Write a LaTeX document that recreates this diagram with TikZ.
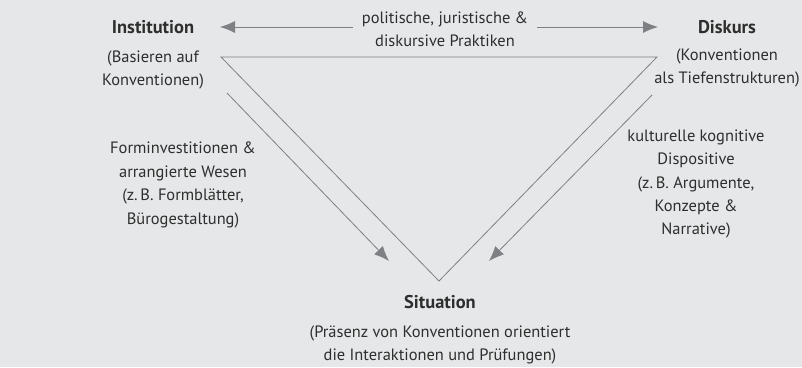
\documentclass[tikz,border=0pt]{standalone}
\usepackage{fontspec}
\setmainfont{PT Sans}
\usetikzlibrary{arrows.meta}
\definecolor{bg}{HTML}{E6E7E8}
\definecolor{txt}{HTML}{2E2E2E}
\definecolor{ln}{HTML}{7F8083}
\tikzset{
  px/.style={x=1bp,y=-1bp},
  lbl/.style={text=txt,align=center,font=\fontsize{16.5}{23.5}\selectfont,inner sep=0pt},
  ttl/.style={text=txt,align=center,font=\fontsize{18.5}{20}\selectfont\bfseries,inner sep=0pt},
  tri/.style={draw=ln,line width=0.8bp},
  arr/.style={draw=ln,line width=0.8bp,-{Latex[length=15bp,width=12bp,fill=ln]}},
}
\begin{document}
\begin{tikzpicture}[px]
\fill[bg] (0,0) rectangle (802,367);
\useasboundingbox (0,0) rectangle (802,367);
% titles
\node[ttl] (inst) at (153,27) {Institution};
\node[lbl] (instd) at (153,70) {(Basieren auf\\Konventionen)};
\node[ttl] (disk) at (727,27) {Diskurs};
\node[lbl] (diskd) at (727,68) {(Konventionen\\als Tiefenstrukturen)};
\node[ttl] (sit) at (440,302) {Situation};
\node[lbl] (sitd) at (440,345) {(Präsenz von Konventionen orientiert\\die Interaktionen und Prüfungen)};
% triangle
\coordinate (tl) at (221,57);
\coordinate (tr) at (657,57);
\coordinate (bt) at (439,281);
\draw[tri] (tl) -- (tr) -- (bt) -- cycle;
% top arrows
\node[lbl] (pol) at (445,29.5) {politische, juristische \&\\diskursive Praktiken};
\coordinate (la) at (353,27);
\coordinate (lt) at (220,27);
\coordinate (ra) at (537,27);
\coordinate (rt) at (658,27);
\draw[arr] (la) -- (lt);
\draw[arr] (ra) -- (rt);
% side arrows
\coordinate (l1) at (227,93);
\coordinate (l2) at (389,261);
\coordinate (r1) at (652,95);
\coordinate (r2) at (489,261);
\draw[arr] (l1) -- (l2);
\draw[arr] (r1) -- (r2);
\node[lbl] (forms) at (183,185) {Forminvestitionen \&\\arrangierte Wesen\\(z.\,B. Formblätter,\\Bürogestaltung)};
\node[lbl] (kult) at (696,184) {kulturelle kognitive\\Dispositive\\(z.\,B. Argumente,\\Konzepte \&\\Narrative)};
\end{tikzpicture}
\end{document}
